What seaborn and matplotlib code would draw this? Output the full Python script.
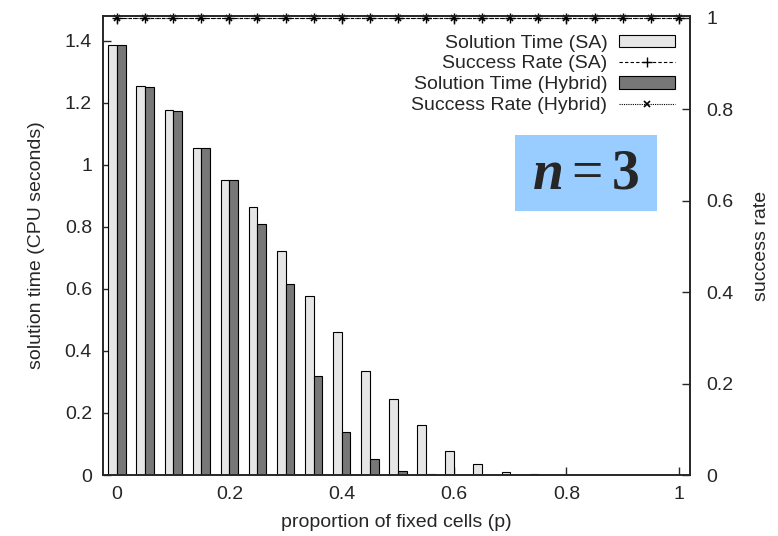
import numpy as np
import pandas as pd
import matplotlib
matplotlib.use("Agg")
import matplotlib.pyplot as plt
import seaborn as sns
from matplotlib.patches import Rectangle
from matplotlib.ticker import FormatStrFormatter

# data
p = [0.0, 0.05, 0.1, 0.15, 0.2, 0.25, 0.3, 0.35, 0.4, 0.45, 0.5,
     0.55, 0.6, 0.65, 0.7, 0.75, 0.8, 0.85, 0.9, 0.95, 1.0]
time_sa = [1.385, 1.255, 1.178, 1.055, 0.952, 0.865, 0.722, 0.578, 0.460, 0.335, 0.245,
           0.160, 0.077, 0.037, 0.010, 0.003, 0.001, 0.0, 0.0, 0.0, 0.0]
time_hybrid = [1.385, 1.250, 1.175, 1.055, 0.952, 0.808, 0.615, 0.320, 0.140, 0.053, 0.012,
               0.002, 0.0, 0.0, 0.0, 0.0, 0.0, 0.0, 0.0, 0.0, 0.0]
rate_sa = [1.0] * 21
rate_hybrid = [1.0] * 21

df = pd.DataFrame({"p": p, "time_sa": time_sa, "time_hybrid": time_hybrid,
                   "rate_sa": rate_sa, "rate_hybrid": rate_hybrid})

sns.set_style("ticks")
plt.rcParams["font.family"] = ["Liberation Sans", "DejaVu Sans"]
plt.rcParams["xtick.direction"] = "in"
plt.rcParams["ytick.direction"] = "in"
plt.rcParams["mathtext.fontset"] = "custom"
plt.rcParams["mathtext.rm"] = "Liberation Serif"
plt.rcParams["mathtext.bf"] = "Liberation Serif:bold"
plt.rcParams["mathtext.it"] = "Liberation Serif:italic:bold"

fig = plt.figure(figsize=(7.78, 5.36), dpi=100)
ax = fig.add_axes([103 / 778, 1 - 475 / 536, 587 / 778, 459 / 536])
ax2 = ax.twinx()

w = 0.0155
b1 = ax.bar(df["p"] - w / 2, df["time_sa"], width=w, color="#e6e6e6",
            edgecolor="black", linewidth=0.8, label="Solution Time (SA)")
b2 = ax.bar(df["p"] + w / 2, df["time_hybrid"], width=w, color="#777777",
            edgecolor="black", linewidth=0.8, label="Solution Time (Hybrid)")

sns.lineplot(data=df, x="p", y="rate_sa", ax=ax2, color="black", linewidth=0.8,
             linestyle=(0, (3, 2)), marker="+", markersize=7, markeredgewidth=1,
             markeredgecolor="black", clip_on=False,
             label="Success Rate (SA)", legend=False)
sns.lineplot(data=df, x="p", y="rate_hybrid", ax=ax2, color="black", linewidth=0.8,
             linestyle=(0, (1, 1)), marker="x", markersize=5, markeredgewidth=1.2,
             markeredgecolor="black", clip_on=False,
             label="Success Rate (Hybrid)", legend=False)
l1, l2 = ax2.get_lines()[:2]

ax.set_xlim(-0.025, 1.02)
ax.set_ylim(0, 1.48)
ax2.set_ylim(0, 1.004)
ax.set_xticks([0, 0.2, 0.4, 0.6, 0.8, 1.0])
ax.set_yticks([0, 0.2, 0.4, 0.6, 0.8, 1.0, 1.2, 1.4])
ax2.set_yticks([0, 0.2, 0.4, 0.6, 0.8, 1.0])
ax.xaxis.set_major_formatter(FormatStrFormatter("%g"))
ax.yaxis.set_major_formatter(FormatStrFormatter("%g"))
ax2.yaxis.set_major_formatter(FormatStrFormatter("%g"))
ax.tick_params(axis="x", top=True, direction="in", length=6, labelsize=14, pad=8, width=1)
ax.tick_params(axis="y", direction="in", length=6, labelsize=14, pad=8, width=1)
ax2.tick_params(axis="y", direction="in", length=6, labelsize=14, pad=12, width=1)
for a in (ax, ax2):
    for s in a.spines.values():
        s.set_linewidth(1.2)

ax.set_xlabel("proportion of fixed cells (p)", fontsize=14, labelpad=8)
ax.set_ylabel("solution time (CPU seconds)", fontsize=14, labelpad=14)
ax2.set_ylabel("success rate", fontsize=14, labelpad=14)

leg = ax2.legend([b1, l1, b2, l2],
                 ["Solution Time (SA)", "Success Rate (SA)",
                  "Solution Time (Hybrid)", "Success Rate (Hybrid)"],
                 loc="upper right", bbox_to_anchor=(0.995, 0.985), frameon=False,
                 markerfirst=False, fontsize=14, handlelength=2.9, handleheight=0.6,
                 labelspacing=0.2, handletextpad=0.6, borderpad=0.1)

ax2.add_patch(Rectangle((0.702, 0.575), 0.242, 0.166, transform=ax2.transAxes,
                        facecolor="#99ccff", edgecolor="none", zorder=3))
ax2.text(0.823, 0.655, r"$\mathit{n} = \mathbf{3}$", transform=ax2.transAxes,
         ha="center", va="center", fontsize=40, zorder=4)

fig.savefig("out.png", dpi=100)
